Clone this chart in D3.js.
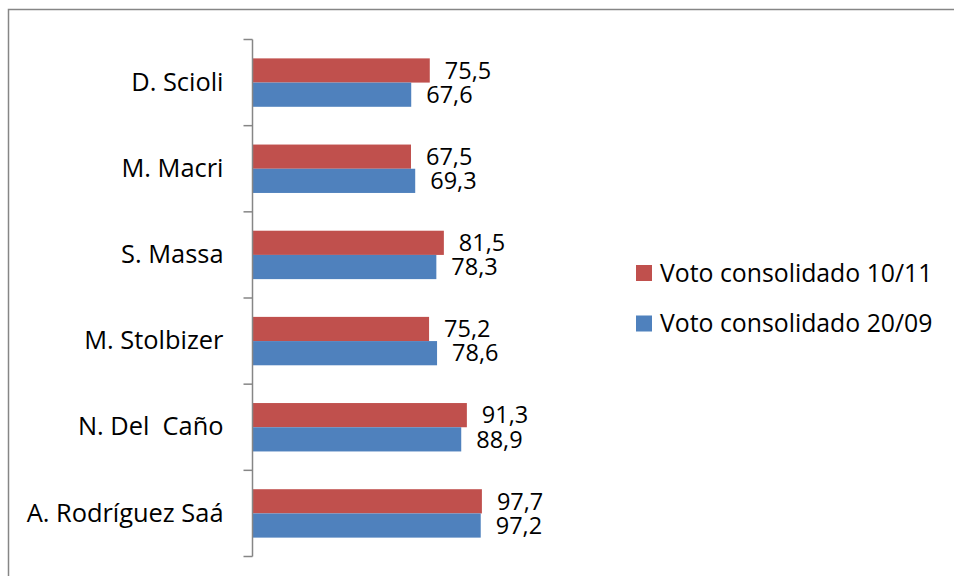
<!DOCTYPE html>
<html>
<head>
<meta charset="utf-8">
<script src="https://cdn.jsdelivr.net/npm/d3@7"></script>
<style>
  body { margin: 0; background: #fff; }
  text { font-family: "Open Sans", sans-serif; fill: #000; }
</style>
</head>
<body>
<script>
// data
const categories = ["D. Scioli", "M. Macri", "S. Massa", "M. Stolbizer", "N. Del  Caño", "A. Rodríguez Saá"];
const seriesNames = ["Voto consolidado 10/11", "Voto consolidado 20/09"];
const voto1011 = [75.5, 67.5, 81.5, 75.2, 91.3, 97.7];
const voto2009 = [67.6, 69.3, 78.3, 78.6, 88.9, 97.2];
const colors = ["#C0504D", "#4F81BD"];

const width = 954, height = 576;
const margin = {top: 39.5, left: 252.5, bottom: 19.5};

const svg = d3.select("body").append("svg")
    .attr("width", width)
    .attr("height", height);

// chart area border (only top and left are visible in the frame)
svg.append("rect")
    .attr("x", 8.5).attr("y", 9.5)
    .attr("width", width + 20).attr("height", height + 20)
    .attr("fill", "none")
    .attr("stroke", "#868686")
    .attr("stroke-width", 1.5);

const y = d3.scaleBand()
    .domain(categories)
    .range([margin.top, height - margin.bottom]);

const y1 = d3.scaleBand()
    .domain(seriesNames)
    .range([0, y.bandwidth()])
    .paddingOuter(0.78);

const x = d3.scaleLinear()
    .domain([0, 100])
    .range([margin.left, margin.left + 234.8]);

const fmt = v => d3.format(".1f")(v).replace(".", ",");

const rows = categories.map((c, i) => ({
  cat: c,
  vals: [voto1011[i], voto2009[i]]
}));

const groups = svg.append("g").attr("class", "bars")
  .selectAll("g")
  .data(rows)
  .join("g")
    .attr("transform", d => `translate(0,${y(d.cat)})`);

groups.selectAll("rect")
  .data(d => d.vals.map((v, j) => ({v, s: seriesNames[j], j})))
  .join("rect")
    .attr("x", x(0))
    .attr("y", d => y1(d.s))
    .attr("width", d => x(d.v) - x(0))
    .attr("height", y1.bandwidth())
    .attr("fill", d => colors[d.j]);

groups.selectAll("text")
  .data(d => d.vals.map((v, j) => ({v, s: seriesNames[j], j})))
  .join("text")
    .attr("x", d => x(d.v) + 15)
    .attr("y", d => y1(d.s) + y1.bandwidth() / 2)
    .attr("dy", "0.35em")
    .style("font-size", "23.5px")
    .text(d => fmt(d.v));

// category axis
const yAxis = g => g
    .attr("transform", `translate(${margin.left},0)`)
    .call(d3.axisLeft(y).tickSize(0).tickPadding(29))
    .call(g => g.select(".domain")
        .attr("stroke", "#868686").attr("stroke-width", 1.5)
        .attr("d", `M0,${margin.top}V${height - margin.bottom}`))
    .call(g => g.selectAll(".tick text")
        .attr("font-family", null)
        .style("font-size", "25.4px")
        .style("white-space", "pre"));

svg.append("g").attr("class", "y-axis").call(yAxis);

// tick marks between categories
const boundaries = categories.map(c => y(c)).concat([y.range()[1]]);
svg.append("g").selectAll("line")
  .data(boundaries)
  .join("line")
    .attr("x1", margin.left - 9).attr("x2", margin.left)
    .attr("y1", d => d).attr("y2", d => d)
    .attr("stroke", "#868686")
    .attr("stroke-width", 1.5);

// legend
const legend = svg.append("g")
  .selectAll("g")
  .data(seriesNames)
  .join("g")
    .attr("transform", (d, i) => `translate(636,${273 + i * 50.5})`);

legend.append("rect")
    .attr("x", 0).attr("y", -8)
    .attr("width", 16).attr("height", 16)
    .attr("fill", (d, i) => colors[i]);

legend.append("text")
    .attr("x", 24).attr("y", 0)
    .attr("dy", "0.35em")
    .style("font-size", "24.8px")
    .text(d => d);
</script>
</body>
</html>
